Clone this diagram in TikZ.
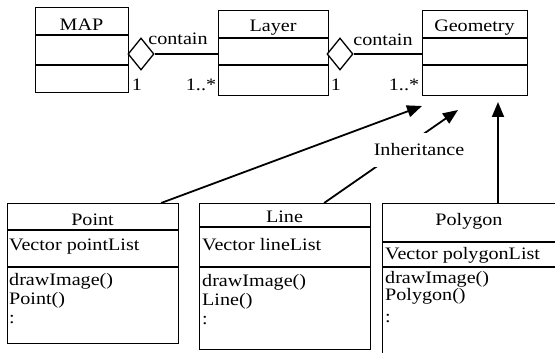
\documentclass[tikz,border=0pt]{standalone}
\usepackage{fontspec}
\setmainfont[FakeStretch=1.15]{Liberation Serif}
\usetikzlibrary{arrows.meta,shapes.geometric,calc}
\begin{document}
\begin{tikzpicture}[x=1pt,y=-1pt,
  box/.style={draw,line width=1.1pt,rectangle,anchor=north west,inner sep=0pt},
  txt/.style={font=\fontsize{17.5}{20}\selectfont,inner sep=0pt,anchor=base},
  lt/.style={txt,anchor=base west},
  divider/.style={line width=1.1pt},
  conn/.style={line width=1.2pt},
  inh/.style={line width=1.8pt,-{Triangle[length=15pt,width=12pt]}},
  agg/.style={draw,diamond,shape aspect=0.8125,minimum width=26pt,minimum height=32pt,inner sep=0pt,line width=1.3pt,fill=white}]
\path[use as bounding box,clip] (0,0) rectangle (555,353);
\fill[white] (0,0) rectangle (555,353);

% top classes
\node[box,minimum width=93pt,minimum height=85pt] (map) at (35,7) {};
\draw[divider] (35,35) -- (128,35) (35,65) -- (128,65);
\node[txt] (maptitle) at (81.5,31) {MAP};

\node[box,minimum width=110pt,minimum height=85pt] (layer) at (218,10) {};
\draw[divider] (218,38) -- (328,38) (218,65) -- (328,65);
\node[txt] (layertitle) at (273,32) {Layer};

\node[box,minimum width=105pt,minimum height=85pt] (geom) at (422,10) {};
\draw[divider] (422,38) -- (527,38) (422,65) -- (527,65);
\node[txt] (geomtitle) at (474.5,32) {Geometry};

% aggregations
\node[agg] (d1) at (141,54) {};
\node[agg] (d2) at (340,54) {};
\draw[conn] (d1.east) -- (d1.east -| layer.west);
\draw[conn] (d2.east) -- (d2.east -| geom.west);
\node[txt] (c1) at (178,45) {contain};
\node[txt] (c2) at (383,46) {contain};
\node[txt] (m1) at (137,91) {1};
\node[txt] (m2) at (201,91) {1..*};
\node[txt] (m3) at (336,91) {1};
\node[txt] (m4) at (404,91) {1..*};

% bottom classes
\node[box,minimum width=171pt,minimum height=140pt] (point) at (7,203) {};
\draw[divider] (7,230) -- (178,230) (7,267) -- (178,267);
\node[txt] (pointtitle) at (92.5,225) {Point};
\node[lt] (p1) at (9,250) {Vector pointList};
\node[lt] (p2) at (9,285) {drawImage()};
\node[lt] (p3) at (9,304) {Point()};
\node[lt] (p4) at (9,323) {:};

\node[box,minimum width=171pt,minimum height=146pt] (line) at (199,203) {};
\draw[divider] (199,227) -- (370,227) (199,267) -- (370,267);
\node[txt] (linetitle) at (284.5,222) {Line};
\node[lt] (l1) at (202,250) {Vector lineList};
\node[lt] (l2) at (202,286) {drawImage()};
\node[lt] (l3) at (202,305) {Line()};
\node[lt] (l4) at (202,324) {:};

\node[box,minimum width=190pt,minimum height=170pt] (poly) at (382,203) {};
\draw[divider] (382,242) -- (572,242) (382,267) -- (572,267);
\node[txt] (polytitle) at (469,225) {Polygon};
\node[lt] (g1) at (385,259) {Vector polygonList};
\node[lt] (g2) at (385,283) {drawImage()};
\node[lt] (g3) at (385,300) {Polygon()};
\node[lt] (g4) at (385,322) {:};

% inheritance
\coordinate (t1) at (422,106);
\coordinate (t2) at (458,110);
\coordinate (t3) at (498,102);
\draw[inh] ([xshift=-18pt]point.north east) -- (t1);
\draw[inh] ([xshift=-47pt]line.north east) -- (t2);
\draw[inh] (poly.north west -| t3) -- (t3);
\node[txt,anchor=center,fill=white,minimum width=96pt,minimum height=34pt] (inhlabel) at (419,150) {Inheritance};
\end{tikzpicture}
\end{document}
